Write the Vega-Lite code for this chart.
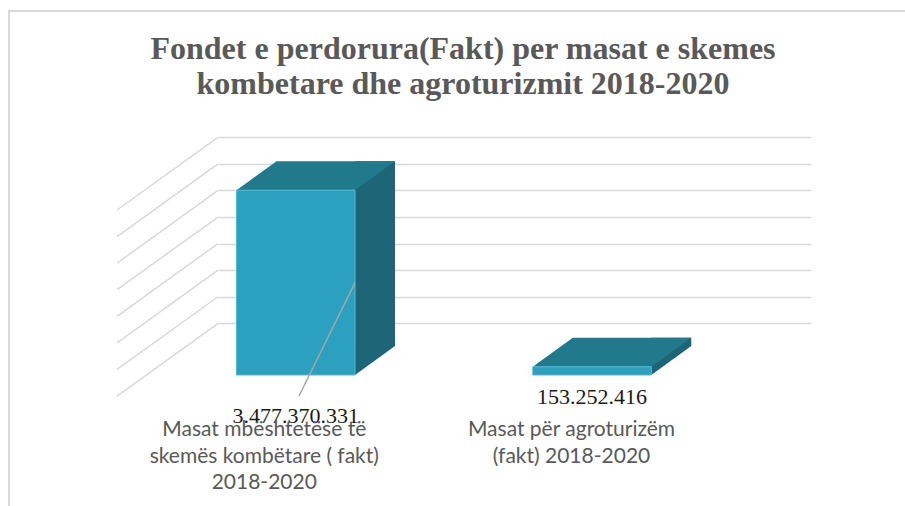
{
  "$schema": "https://vega.github.io/schema/vega-lite/v6.json",
  "width": 896,
  "height": 495,
  "autosize": "none",
  "padding": {"left": 9, "top": 11, "right": 0, "bottom": 0},
  "title": {
    "text": ["Fondet e perdorura(Fakt) per masat e skemes", "kombetare dhe agroturizmit 2018-2020"],
    "font": "Liberation Serif",
    "fontSize": 32,
    "fontWeight": "bold",
    "color": "#595959",
    "anchor": "middle",
    "frame": "group",
    "offset": -90,
    "dx": 6,
    "lineHeight": 35
  },
  "data": {
    "values": [
      {"cat": "Masat mbështetëse të\nskemës kombëtare ( fakt)\n2018-2020", "v": 3477370331},
      {"cat": "Masat për agroturizëm\n(fakt) 2018-2020", "v": 153252416}
    ]
  },
  "layer": [
    {
      "data": {"values": [{"t": 500000000}, {"t": 1000000000}, {"t": 1500000000}, {"t": 2000000000}, {"t": 2500000000}, {"t": 3000000000}, {"t": 3500000000}, {"t": 4000000000}]},
      "mark": {"type": "rule", "color": "#d9d9d9", "strokeWidth": 1.5, "xOffset": -112.55, "x2Offset": -213.55, "y2Offset": 72.7},
      "encoding": {
        "x": {
          "datum": "Masat mbështetëse të\nskemës kombëtare ( fakt)\n2018-2020",
          "type": "nominal",
          "bandPosition": 0.5,
          "scale": {
            "type": "band",
            "domain": ["Masat mbështetëse të\nskemës kombëtare ( fakt)\n2018-2020", "Masat për agroturizëm\n(fakt) 2018-2020"],
            "range": [209, 801.5],
            "paddingInner": 0.6,
            "paddingOuter": 0.3,
            "align": 0.3,
            "round": false
          }
        },
        "x2": {"datum": "Masat mbështetëse të\nskemës kombëtare ( fakt)\n2018-2020", "bandPosition": 0.5},
        "y": {
          "field": "t",
          "type": "quantitative",
          "title": null,
          "scale": {"domain": [0, 4000000000], "range": [338.9, 126.3], "nice": false, "zero": true},
          "axis": {
            "values": [500000000, 1000000000, 1500000000, 2000000000, 2500000000, 3000000000, 3500000000, 4000000000],
            "labels": false, "ticks": false, "domain": false, "grid": true,
            "gridColor": "#d9d9d9", "gridWidth": 1.5, "title": null
          }
        },
        "y2": {"field": "t"}
      }
    },
    {
      "mark": {"type": "rule", "color": "#1c6677", "strokeWidth": 40, "strokeCap": "butt", "xOffset": -14.8, "yOffset": -3.9, "y2Offset": -3.9},
      "encoding": {
        "x": {"field": "cat", "type": "nominal", "bandPosition": 1},
        "y": {"field": "v", "type": "quantitative", "title": null},
        "y2": {"datum": 0}
      }
    },
    {
      "mark": {"type": "point", "shape": "M0,0L0,-29L40,-29Z", "size": 4, "filled": true, "color": "#1c6677", "opacity": 1, "strokeWidth": 0, "xOffset": -34.8, "yOffset": 25.1},
      "encoding": {
        "x": {"field": "cat", "type": "nominal", "bandPosition": 1},
        "y": {"datum": 0, "type": "quantitative"}
      }
    },
    {
      "mark": {"type": "point", "shape": "M0,0L-118.5,0L-78.5,-29L40,-29Z", "size": 4, "filled": true, "color": "#217a8c", "opacity": 1, "strokeWidth": 0, "xOffset": -34.8, "yOffset": 25.1},
      "encoding": {
        "x": {"field": "cat", "type": "nominal", "bandPosition": 1},
        "y": {"field": "v", "type": "quantitative", "title": null}
      }
    },
    {
      "mark": {"type": "bar", "color": "#2ba0bf", "stroke": "#55b6d0", "strokeWidth": 1, "xOffset": -34.8, "yOffset": 25.1, "y2Offset": 25.1},
      "encoding": {
        "x": {"field": "cat", "type": "nominal"},
        "y": {"field": "v", "type": "quantitative", "title": null},
        "y2": {"datum": 0}
      }
    },
    {
      "transform": [{"filter": "datum.v > 1000000000"}],
      "mark": {"type": "rule", "color": "#a6a6a6", "strokeWidth": 1.5, "xOffset": 24.45, "x2Offset": -31.55, "yOffset": 117.5, "y2Offset": 46.1},
      "encoding": {
        "x": {"field": "cat", "type": "nominal", "bandPosition": 0.5},
        "x2": {"field": "cat"},
        "y": {"field": "v", "type": "quantitative", "title": null},
        "y2": {"datum": 0}
      }
    },
    {
      "transform": [{"filter": "datum.v > 1000000000"}],
      "mark": {"type": "text", "font": "Liberation Serif", "fontSize": 22, "color": "#1a1a1a", "align": "center", "baseline": "alphabetic", "xOffset": -34.8, "yOffset": 73.1},
      "encoding": {
        "x": {"field": "cat", "type": "nominal"},
        "y": {"datum": 0, "type": "quantitative"},
        "text": {"field": "v", "type": "quantitative", "format": ",d"}
      }
    },
    {
      "transform": [{"filter": "datum.v < 1000000000"}],
      "mark": {"type": "text", "font": "Liberation Serif", "fontSize": 22, "color": "#1a1a1a", "align": "center", "baseline": "alphabetic", "xOffset": -34.8, "yOffset": 54.1},
      "encoding": {
        "x": {"field": "cat", "type": "nominal"},
        "y": {"datum": 0, "type": "quantitative"},
        "text": {"field": "v", "type": "quantitative", "format": ",d"}
      }
    },
    {
      "transform": [{"filter": "datum.v > 1000000000"}],
      "mark": {"type": "text", "font": "Lato", "fontSize": 21, "color": "#595959", "align": "center", "baseline": "alphabetic", "lineBreak": "\n", "lineHeight": 26.5, "xOffset": -66.3, "yOffset": 86.1},
      "encoding": {
        "x": {"field": "cat", "type": "nominal"},
        "y": {"datum": 0, "type": "quantitative"},
        "text": {"field": "cat", "type": "nominal"}
      }
    },
    {
      "transform": [{"filter": "datum.v < 1000000000"}],
      "mark": {"type": "text", "font": "Lato", "fontSize": 21, "color": "#595959", "align": "center", "baseline": "alphabetic", "lineBreak": "\n", "lineHeight": 26.5, "xOffset": -55.3, "yOffset": 86.1},
      "encoding": {
        "x": {"field": "cat", "type": "nominal"},
        "y": {"datum": 0, "type": "quantitative"},
        "text": {"field": "cat", "type": "nominal"}
      }
    }
  ],
  "config": {
    "view": {"stroke": "#d9d9d9", "strokeWidth": 2, "strokeDash": [896, 1391, 500]},
    "axisX": {"disable": true},
    "locale": {"number": {"decimal": ",", "thousands": ".", "grouping": [3], "currency": ["", " €"]}}
  }
}
